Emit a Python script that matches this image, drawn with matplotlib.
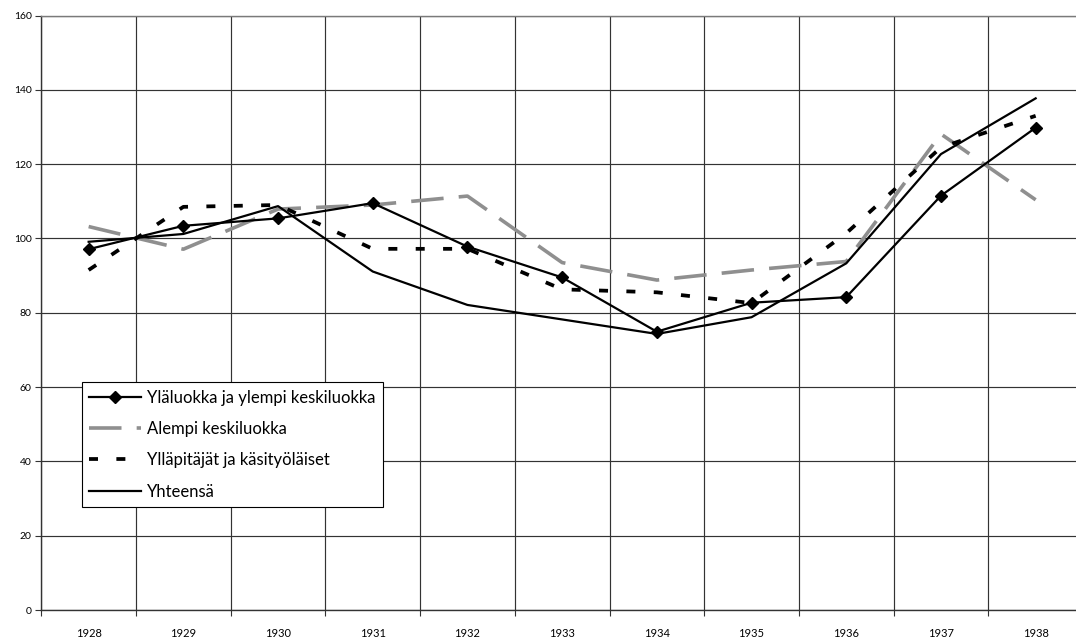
import matplotlib
matplotlib.use("Agg")
import matplotlib.pyplot as plt
import numpy as np

plt.rcParams['font.family'] = ['Lato', 'DejaVu Sans']

# data (index numbers)
years = ['1928', '1929', '1930', '1931', '1932', '1933', '1934', '1935', '1936', '1937', '1938']
ylaluokka = [97.1, 103.4, 105.4, 109.5, 97.8, 89.5, 74.9, 82.7, 84.2, 111.5, 129.8]
alempi = [103.2, 97.1, 107.9, 109.0, 111.4, 93.5, 88.8, 91.5, 93.8, 128.1, 110.4]
yllapitajat = [91.5, 108.5, 109.0, 97.2, 97.2, 86.3, 85.5, 82.6, 101.4, 124.5, 133.0]
yhteensa = [99.1, 101.2, 108.7, 91.1, 82.1, 78.2, 74.3, 78.8, 93.3, 122.7, 137.7]

labels = ['Yläluokka ja ylempi keskiluokka', 'Alempi keskiluokka',
          'Ylläpitäjät ja käsityöläiset', 'Yhteensä']

fig = plt.figure(figsize=(10.76, 6.39), dpi=100)
# plot area runs past the right edge of the picture, like the reference crop
ax = fig.add_axes([41.3 / 1076, 29 / 639, 1041.7 / 1076, 594.5 / 639])

x = np.arange(len(years))

ax.plot(x, ylaluokka, color='black', lw=1.6, marker='D', markersize=6.5, label=labels[0], zorder=5)
l2, = ax.plot(x, alempi, color='#8f8f8f', lw=2.6, label=labels[1], zorder=3)
l2.set_dashes((9.0, 4.2))
l3, = ax.plot(x, yllapitajat, color='black', lw=2.7, label=labels[2], zorder=4)
l3.set_dashes((2.4, 4.9))
ax.plot(x, yhteensa, color='black', lw=1.6, label=labels[3], zorder=6)

ax.set_xlim(-0.5, len(years) - 0.5)
ax.set_ylim(0, 160)
ax.set_yticks(np.arange(0, 161, 20))
ax.set_xticks(x)
ax.set_xticklabels(years)
ax.set_xticks(np.arange(-0.5, len(years), 1), minor=True)

ax.tick_params(axis='y', labelsize=7.5, length=4, width=0.8, color='#333333', pad=3)
ax.tick_params(axis='x', which='major', labelsize=8, length=0, pad=13)
ax.tick_params(axis='x', which='minor', length=4, width=0.8, color='#333333')

ax.grid(True, axis='y', which='major', color='#333333', lw=0.85)
ax.grid(True, axis='x', which='minor', color='#333333', lw=0.85)
ax.set_axisbelow(True)

for side in ['left', 'bottom']:
    ax.spines[side].set_color('#333333')
    ax.spines[side].set_linewidth(1.0)
ax.spines['top'].set_color('#7a7a7a')
ax.spines['top'].set_linewidth(1.0)
ax.spines['right'].set_visible(False)

leg = ax.legend(loc='lower left', bbox_to_anchor=(0.0388, 0.173), borderaxespad=0,
                fontsize=12, handlelength=3.1, handletextpad=0.35, labelspacing=0.92,
                fancybox=False, framealpha=1, edgecolor='black', borderpad=0.45)
leg.get_frame().set_linewidth(0.8)

fig.savefig('out.png', dpi=100)
